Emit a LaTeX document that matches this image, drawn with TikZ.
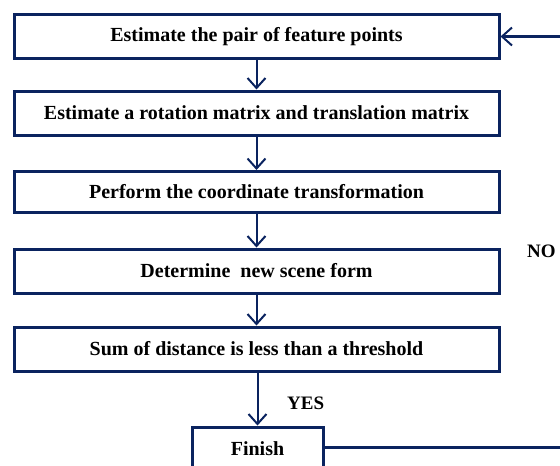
\documentclass[tikz,border=0pt]{standalone}
\usepackage{fontspec}
\setmainfont{Liberation Serif}
\usetikzlibrary{arrows.meta}
\definecolor{navy}{RGB}{10,35,95}

\begin{document}
\begin{tikzpicture}[x=1pt, y=-1pt,
    flowbox/.style={draw=navy, line width=3pt, minimum width=485pt, minimum height=44pt,
        inner sep=0pt, font=\fontsize{20}{22}\selectfont\bfseries},
    flowarrow/.style={draw=navy, line width=2pt, -{Straight Barb[length=10pt,width=18pt,line width=2pt]}},
    flowlabel/.style={font=\fontsize{19}{21}\selectfont\bfseries}]

    \clip (0,0) rectangle (560,466);

    \node[flowbox] (pair) at (256.5,36.5) {Estimate the pair of feature points};
    \node[flowbox] (rot) at (256.5,113) {Estimate a rotation matrix and translation matrix};
    \node[flowbox, minimum height=41pt] (trans) at (256.5,192) {Perform the coordinate transformation};
    \node[flowbox] (scene) at (256.5,271) {Determine \ new scene form};
    \node[flowbox] (sum) at (256.5,349) {Sum of distance is less than a threshold};
    \node[flowbox, minimum width=131pt] (fin) at (257.5,449) {Finish};

    \node[flowlabel, anchor=west, inner sep=0pt] (no) at (527,251) {NO};
    \node[flowlabel, anchor=west, inner sep=0pt] (yes) at (287,403) {YES};

    \coordinate (loopb) at (575,447);
    \coordinate (loopt) at (575,36.5);

    \draw[flowarrow] (pair) -- (rot);
    \draw[flowarrow] (rot) -- (trans);
    \draw[flowarrow] (trans) -- (scene);
    \draw[flowarrow] (scene) -- (sum);
    \draw[flowarrow] (sum.south -| fin.north) -- (fin);
    \draw[flowarrow, line width=3pt] (fin.east |- loopb) -- (loopb) -- (loopt) -- (pair);

\end{tikzpicture}
\end{document}
